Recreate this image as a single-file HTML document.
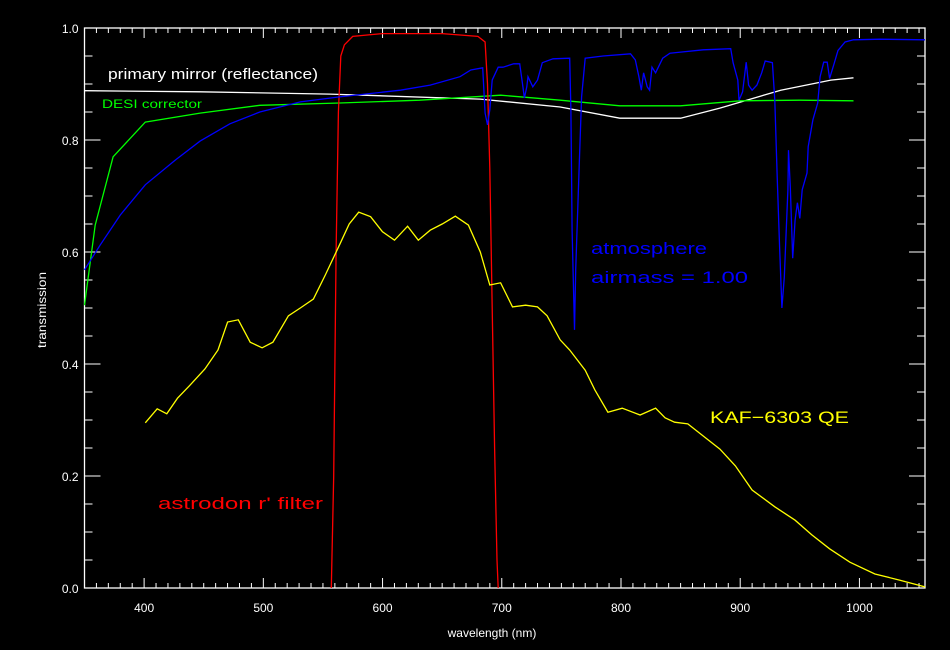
<!DOCTYPE html>
<html><head><meta charset="utf-8"><style>
html,body{margin:0;padding:0;background:#000;}
svg{display:block;font-family:"Liberation Sans",sans-serif;}
</style></head><body>
<svg id="chart" width="950" height="650" viewBox="0 0 950 650" xmlns="http://www.w3.org/2000/svg">
<rect x="0" y="0" width="950" height="650" fill="#000"/>
<g id="axes"></g>
<g id="series"></g>
<text x="108" y="79" fill="#fff" font-size="15" textLength="210" lengthAdjust="spacingAndGlyphs">primary mirror (reflectance)</text>
<text x="102" y="108" fill="#00ff00" font-size="12" textLength="100" lengthAdjust="spacingAndGlyphs">DESI corrector</text>
<text x="591" y="254" fill="#0000ff" font-size="17" textLength="116" lengthAdjust="spacingAndGlyphs">atmosphere</text>
<text x="591" y="283" fill="#0000ff" font-size="17" textLength="157" lengthAdjust="spacingAndGlyphs">airmass = 1.00</text>
<text x="710" y="423" fill="#ffff00" font-size="17" textLength="139" lengthAdjust="spacingAndGlyphs">KAF−6303 QE</text>
<text x="158" y="509" fill="#ff0000" font-size="17" textLength="165" lengthAdjust="spacingAndGlyphs">astrodon r' filter</text>
<text x="492" y="637" fill="#fff" font-size="12" text-anchor="middle">wavelength (nm)</text>
<text x="46" y="310" fill="#fff" font-size="12" text-anchor="middle" textLength="76" lengthAdjust="spacingAndGlyphs" transform="rotate(-90 46 310)">transmission</text>
</svg>
<script>
const xTicks=[400,500,600,700,800,900,1000];
const yTicks=[0.0,0.2,0.4,0.6,0.8,1.0];
const qeNm=[401,411,419,428,438,451,462,470,479,489,499,508,521,531,542,552,564,572,580,590,600,610,621,630,640,650,661,672,682,690,699,709,720,730,738,749,757,770,778,789,801,816,829,837,845,856,871,883,896,910,929,946,960,975,992,1013,1034,1055];
const qeVal=[0.295,0.320,0.311,0.339,0.361,0.391,0.425,0.475,0.479,0.439,0.429,0.439,0.486,0.500,0.516,0.559,0.613,0.650,0.671,0.663,0.636,0.621,0.646,0.621,0.639,0.650,0.664,0.648,0.600,0.541,0.545,0.502,0.505,0.502,0.486,0.443,0.425,0.389,0.354,0.314,0.321,0.309,0.321,0.304,0.296,0.293,0.268,0.248,0.218,0.175,0.145,0.121,0.095,0.070,0.046,0.025,0.014,0.002];
const filterNm=[557,559,561,563,565,568,575,600,650,680,686,688,690,692,694,696,697];
const filterVal=[0,0.2,0.6,0.85,0.95,0.97,0.985,0.99,0.99,0.985,0.975,0.9,0.75,0.5,0.25,0.05,0];
const desiNm=[350,359,374,401,447,497,564,631,699,749,799,850,900,950,995];
const desiVal=[0.505,0.648,0.770,0.832,0.848,0.862,0.866,0.871,0.880,0.871,0.861,0.861,0.870,0.871,0.870];
const mirrorNm=[350,447,556,682,749,799,850,883,934,976,995];
const mirrorVal=[0.888,0.886,0.882,0.873,0.859,0.839,0.839,0.857,0.889,0.907,0.911];
const atmNm=[350,363,380,401,426,447,472,497,531,564,615,640,665,674,684,686,688,690,692,697,701,710,715,717,719,721,722,726,730,734,743,757,758,759,761,762,765,767,770,785,808,812,815,817,819,822,824,826,829,835,841,850,869,892,894,898,899,902,905,907,910,914,918,921,927,929,931,933,935,937,940,940.5,942,944,946,948,950,952,956,957,961,965,967,970,973,975,979,982,988,995,1017,1055];
const atmVal=[0.568,0.612,0.666,0.720,0.764,0.798,0.829,0.850,0.868,0.877,0.889,0.898,0.913,0.925,0.929,0.848,0.827,0.854,0.907,0.930,0.930,0.936,0.936,0.907,0.875,0.895,0.913,0.895,0.907,0.938,0.945,0.946,0.854,0.639,0.461,0.568,0.759,0.877,0.946,0.950,0.954,0.943,0.913,0.889,0.920,0.895,0.889,0.930,0.920,0.946,0.955,0.957,0.961,0.963,0.938,0.907,0.871,0.886,0.939,0.898,0.889,0.898,0.920,0.941,0.938,0.871,0.734,0.609,0.500,0.555,0.711,0.782,0.716,0.589,0.657,0.688,0.660,0.711,0.741,0.788,0.836,0.866,0.913,0.939,0.939,0.910,0.938,0.960,0.975,0.979,0.980,0.979];

const X0=84.5,X1=925,NM0=350,NM1=1055,Y0=588,Y1=28;
function sx(nm){return X0+(nm-NM0)*(X1-X0)/(NM1-NM0);}
function sy(v){return Y0-(v)*(Y0-Y1);}
const NS="http://www.w3.org/2000/svg";
function mk(tag,attrs,parent){const e=document.createElementNS(NS,tag);for(const k in attrs)e.setAttribute(k,attrs[k]);parent.appendChild(e);return e;}
const axes=document.getElementById('axes');
const frame=mk('rect',{x:X0,y:Y1,width:X1-X0,height:Y0-Y1,fill:'none',stroke:'#fff','stroke-width':1.3},axes);


for(let nm=350;nm<=1055;nm+=10){
  const major=nm%100===0;const L=major?10:5;const x=sx(nm);
  const t1=mk('line',{x1:x,x2:x,y1:Y0,y2:Y0-L,stroke:'#fff','stroke-width':1},axes);
  
  
  const t2=mk('line',{x1:x,x2:x,y1:Y1,y2:Y1+L,stroke:'#fff','stroke-width':1},axes);
  
  
}
xTicks.forEach(v=>{
  const t=mk('text',{x:sx(v),y:Y0+24,fill:'#fff','font-size':12,'text-anchor':'middle'},axes);t.textContent=String(v);
  
  
});
for(let i=0;i<=20;i++){
  const v=i*0.05;const major=i%4===0;const L=major?16:8;const y=sy(v);
  const t1=mk('line',{x1:X0,x2:X0+L,y1:y,y2:y,stroke:'#fff','stroke-width':1},axes);
  
  
  const t2=mk('line',{x1:X1,x2:X1-L,y1:y,y2:y,stroke:'#fff','stroke-width':1},axes);
  
  
}
yTicks.forEach(v=>{
  const t=mk('text',{x:X0-6,y:sy(v)+5,fill:'#fff','font-size':12,'text-anchor':'end'},axes);t.textContent=v.toFixed(1);
  
  
});
const series=document.getElementById('series');
function line(xs,ys,color,name){
  const d=xs.map((n,i)=>(i?'L':'M')+sx(n).toFixed(1)+','+sy(ys[i]).toFixed(1)).join(' ');
  const p=mk('path',{d:d,fill:'none',stroke:color,'stroke-width':1.3},series);
  
  
}
line(mirrorNm,mirrorVal,'#ffffff','mirror-line');
line(desiNm,desiVal,'#00ff00','corrector-line');
line(filterNm,filterVal,'#ff0000','filter-line');
line(qeNm,qeVal,'#ffff00','qe-line');
line(atmNm,atmVal,'#0000ff','atmosphere-line');
</script>
</body></html>
